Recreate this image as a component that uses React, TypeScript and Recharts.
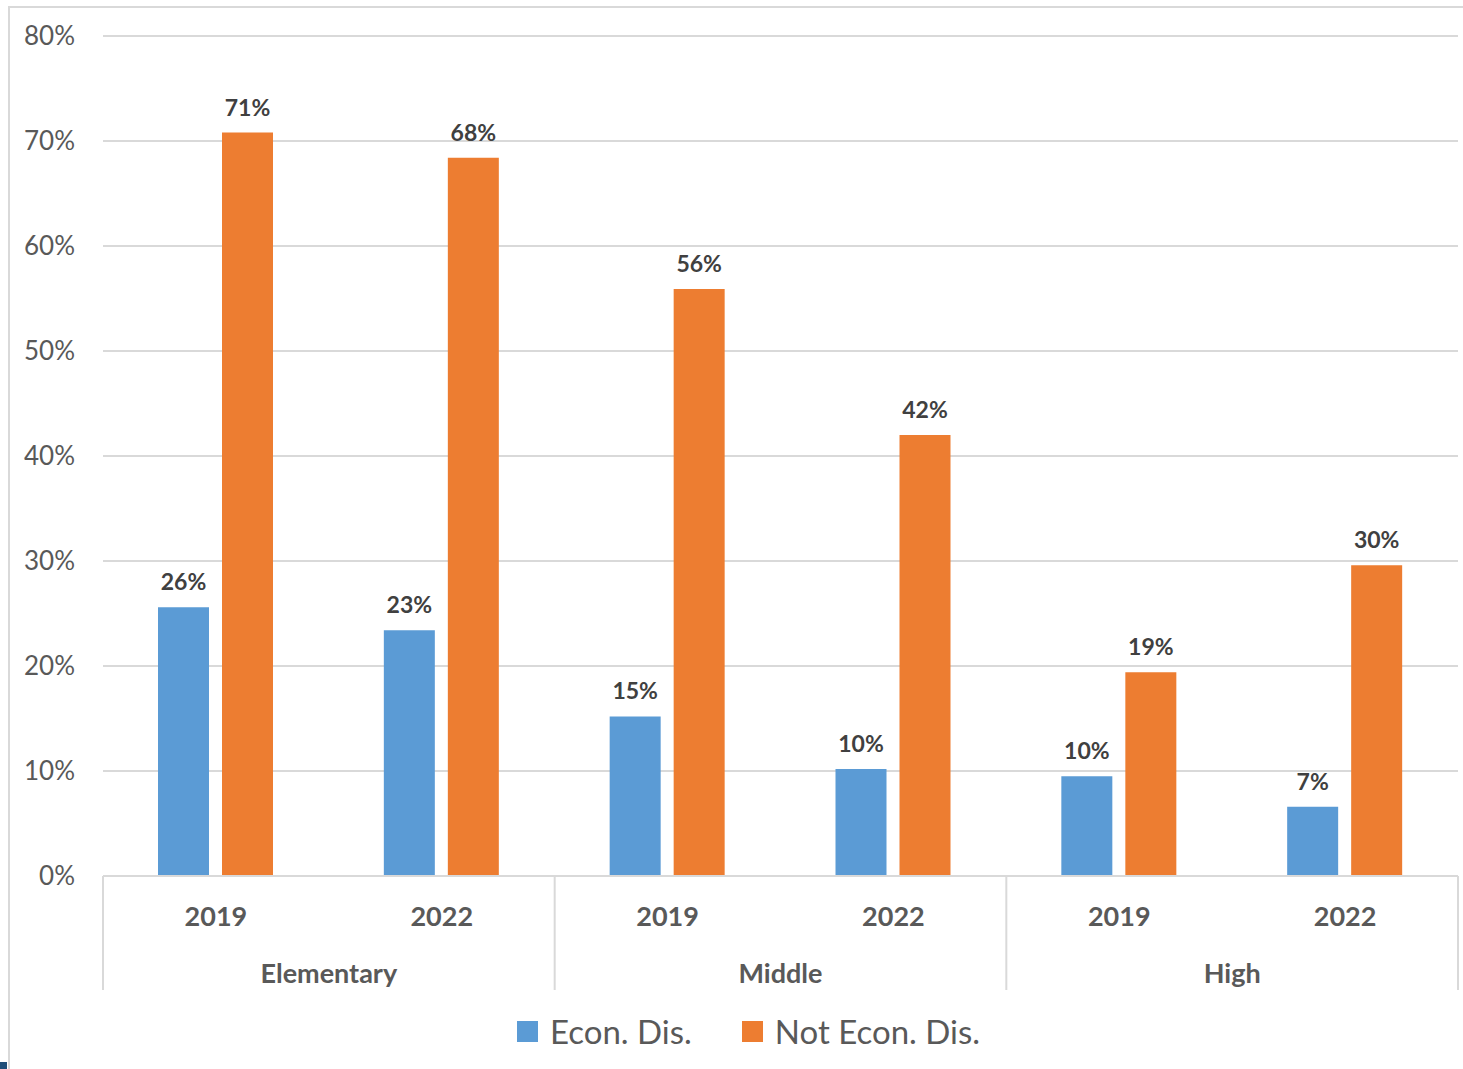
import React from 'react'
import {
  BarChart,
  Bar,
  XAxis,
  YAxis,
  CartesianGrid,
  Legend,
  LabelList,
} from 'recharts'

const years = ['2019', '2022', '2019', '2022', '2019', '2022']
const schoolLevels = ['Elementary', 'Elementary', 'Middle', 'Middle', 'High', 'High']
const econDis = [25.6, 23.4, 15.2, 10.2, 9.5, 6.6]
const notEconDis = [70.8, 68.4, 55.9, 42.0, 19.4, 29.6]
const yTicks = [0, 10, 20, 30, 40, 50, 60, 70, 80]

const data = years.map((year, i) => ({
  year,
  level: schoolLevels[i],
  econ: econDis[i],
  notEcon: notEconDis[i],
}))

const WIDTH = 1463
const HEIGHT = 1069
const PLOT_LEFT = 103
const PLOT_RIGHT = 1458
const PLOT_TOP = 36
const AXIS_Y = 876
const SLOT = (PLOT_RIGHT - PLOT_LEFT) / years.length

const FONT = 'Lato, "Open Sans", sans-serif'
const TEXT = '#595959'
const GRID = '#D9D9D9'
const BLUE = '#5B9BD5'
const ORANGE = '#ED7D31'

const CategoryTick = (props: any) => {
  const { x, index, payload } = props
  const first = index % 2 === 0
  return (
    <g>
      <text
        x={x}
        y={915}
        textAnchor="middle"
        dominantBaseline="central"
        fontFamily={FONT}
        fontWeight={700}
        fontSize={27}
        fill={TEXT}
      >
        {payload.value}
      </text>
      {first && (
        <>
          <text
            x={x + SLOT / 2}
            y={972}
            textAnchor="middle"
            dominantBaseline="central"
            fontFamily={FONT}
            fontWeight={700}
            fontSize={27}
            fill={TEXT}
          >
            {schoolLevels[index]}
          </text>
          <line x1={x - SLOT / 2} x2={x - SLOT / 2} y1={AXIS_Y} y2={990} stroke={GRID} strokeWidth={2} />
        </>
      )}
      {index === years.length - 1 && (
        <line x1={x + SLOT / 2} x2={x + SLOT / 2} y1={AXIS_Y} y2={990} stroke={GRID} strokeWidth={2} />
      )}
    </g>
  )
}

const LegendContent = () => {
  const items = [
    { name: 'Econ. Dis.', color: BLUE },
    { name: 'Not Econ. Dis.', color: ORANGE },
  ]
  return (
    <div
      style={{
        height: 40,
        display: 'flex',
        justifyContent: 'center',
        alignItems: 'center',
        paddingLeft: 39,
        fontFamily: FONT,
      }}
    >
      {items.map((item, i) => (
        <div key={item.name} style={{ display: 'flex', alignItems: 'center', marginLeft: i ? 50 : 0 }}>
          <span style={{ width: 21, height: 21, background: item.color, marginRight: 12, display: 'inline-block' }} />
          <span style={{ fontSize: 33, color: TEXT }}>{item.name}</span>
        </div>
      ))}
    </div>
  )
}

const pct = (v: any) => `${Math.round(Number(v))}%`

const labelStyle = { fontFamily: FONT, fontWeight: 700, fontSize: 23, fill: '#404040' }

export default function App() {
  return (
    <div style={{ position: 'absolute', left: 0, top: 0, width: WIDTH, height: HEIGHT, background: '#fff', overflow: 'hidden' }}>
      <div
        style={{
          position: 'absolute',
          left: 8,
          top: 6,
          width: WIDTH,
          height: HEIGHT,
          borderLeft: `2px solid ${GRID}`,
          borderTop: `2px solid ${GRID}`,
        }}
      />
      <div style={{ position: 'absolute', left: 0, top: 1062, width: 7, height: 7, background: '#1F4E79' }} />
      <div style={{ position: 'absolute', left: 0, top: 0 }}>
        <BarChart
          width={WIDTH}
          height={HEIGHT}
          data={data}
          margin={{ top: PLOT_TOP, right: WIDTH - PLOT_RIGHT, left: 0, bottom: 18 }}
          barGap={13}
        >
          <CartesianGrid vertical={false} stroke={GRID} strokeWidth={2} />
          <YAxis
            width={PLOT_LEFT}
            domain={[0, 80]}
            ticks={yTicks}
            tickFormatter={(v) => `${v}%`}
            axisLine={false}
            tickLine={false}
            tickSize={0}
            tickMargin={28}
            tick={{ fontFamily: FONT, fontSize: 26, fill: TEXT }}
          />
          <XAxis
            dataKey="year"
            height={135}
            interval={0}
            axisLine={{ stroke: GRID, strokeWidth: 2 }}
            tickLine={false}
            tick={<CategoryTick />}
          />
          <Legend verticalAlign="bottom" content={<LegendContent />} />
          <Bar dataKey="econ" name="Econ. Dis." fill={BLUE} barSize={51} isAnimationActive={false}>
            <LabelList dataKey="econ" position="top" offset={17} formatter={pct} style={labelStyle} />
          </Bar>
          <Bar dataKey="notEcon" name="Not Econ. Dis." fill={ORANGE} barSize={51} isAnimationActive={false}>
            <LabelList dataKey="notEcon" position="top" offset={17} formatter={pct} style={labelStyle} />
          </Bar>
        </BarChart>
      </div>
    </div>
  )
}
